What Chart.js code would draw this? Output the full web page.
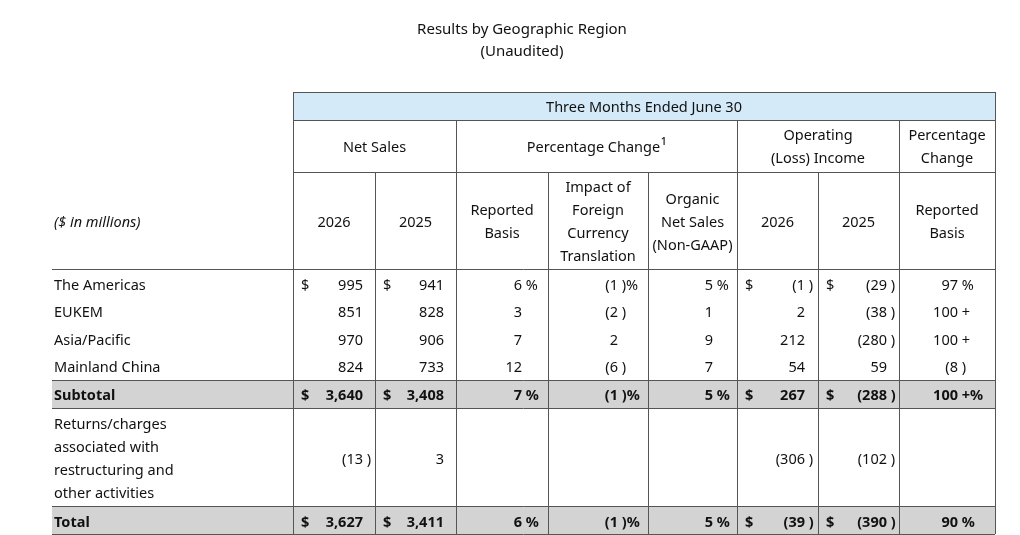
<!DOCTYPE html>
<html>
<head>
<meta charset="utf-8">
<script src="https://cdn.jsdelivr.net/npm/chart.js@4/dist/chart.umd.min.js"></script>
<style>
  html, body { margin: 0; padding: 0; background: #fff; }
  #wrap { width: 1020px; height: 535px; position: relative; }
</style>
</head>
<body>
<div id="wrap"><canvas id="tabla"></canvas></div>
<script>
// ---- data ----
var titleLines = ["Results by Geographic Region", "(Unaudited)"];
var periodLabel = "Three Months Ended June 30";
var groupHeaders = [["Net Sales"], ["Percentage Change"], ["Operating", "(Loss) Income"], ["Percentage", "Change"]];
var columnHeaders = [
  ["2026"], ["2025"], ["Reported", "Basis"],
  ["Impact of", "Foreign", "Currency", "Translation"],
  ["Organic", "Net Sales", "(Non-GAAP)"],
  ["2026"], ["2025"], ["Reported", "Basis"]
];
var unitsLabel = "($ in millions)";
var rowLabels = [
  ["The Americas"], ["EUKEM"], ["Asia/Pacific"], ["Mainland China"], ["Subtotal"],
  ["Returns/charges", "associated with", "restructuring and", "other activities"],
  ["Total"]
];
var netSales2026 = [995, 851, 970, 824, 3640, -13, 3627];
var netSales2025 = [941, 828, 906, 733, 3408, 3, 3411];
var reportedChange = [6, 3, 7, 12, 7, null, 6];
var fxImpact = [-1, -2, 2, -6, -1, null, -1];
var organicChange = [5, 1, 9, 7, 5, null, 5];
var opIncome2026 = [-1, 2, 212, 54, 267, -306, -39];
var opIncome2025 = [-29, -38, -280, 59, -288, -102, -390];
var opIncomeChange = [97, ">100", ">100", -8, ">100", null, 90];

var summaryRows = [4, 6];   // grey + bold
var markedRows = [0, 4, 6]; // show $ and %

// ---- layout (table units = px) ----
var colEdges = [293, 375, 456, 548, 648, 737, 818, 899, 995];
var groupEdges = [293, 456, 737, 899, 995];
var anchorInset = [12, 12, 26, 30, 24, 13, 12, 37];
var rowCenters = [284, 311, 339, 366, 394, 458, 521];
var bands = [[380, 408], [506, 534]];
var hLinesBody = [269, 380, 408, 506, 534];

var columns = [
  { values: netSales2026, dollar: true },
  { values: netSales2025, dollar: true },
  { values: reportedChange, pct: true },
  { values: fxImpact, pct: true },
  { values: organicChange, pct: true },
  { values: opIncome2026, dollar: true },
  { values: opIncome2025, dollar: true },
  { values: opIncomeChange, pct: true }
];

var FONT = "'Noto Sans', 'Open Sans', sans-serif";
var DY = 1.5; // middle-baseline nudge

function formatCell(v, pct, marked) {
  var main, suffix = "";
  if (v === ">100") {
    main = "100";
    suffix = " +";
  } else if (v < 0) {
    main = "(" + Math.abs(v).toLocaleString("en-US");
    suffix = " )";
  } else {
    main = v.toLocaleString("en-US");
  }
  if (pct && marked) suffix = suffix ? suffix + "%" : " %";
  return { main: main, suffix: suffix };
}

var tablePlugin = {
  id: "tablePlugin",
  afterDraw: function (chart) {
    var ctx = chart.ctx;
    var sx = chart.scales.x, sy = chart.scales.y;
    var X = function (v) { return sx.getPixelForValue(v); };
    var Y = function (v) { return sy.getPixelForValue(v); };
    var T = function (v) { return sy.getPixelForValue(v + DY); };
    var L = function (v, isX) { return Math.round(isX ? X(v) : Y(v)) + 0.5; };

    ctx.save();
    // backgrounds
    ctx.fillStyle = "#d5eaf8";
    ctx.fillRect(X(293), Y(92), X(995) - X(293), Y(120) - Y(92));
    ctx.fillStyle = "#d3d3d3";
    bands.forEach(function (b) {
      ctx.fillRect(X(52), Y(b[0]), X(995) - X(52), Y(b[1]) - Y(b[0]));
    });

    // lines
    ctx.strokeStyle = "#555";
    ctx.lineWidth = 1;
    function hline(y, x0, x1) {
      ctx.beginPath(); ctx.moveTo(X(x0), L(y)); ctx.lineTo(X(x1), L(y)); ctx.stroke();
    }
    function vline(x, y0, y1) {
      ctx.beginPath(); ctx.moveTo(L(x, true), Y(y0)); ctx.lineTo(L(x, true), Y(y1)); ctx.stroke();
    }
    [92, 120, 172].forEach(function (y) { hline(y, 293, 995); });
    hLinesBody.forEach(function (y) { hline(y, 52, 995); });
    vline(293, 92, 120); vline(995, 92, 120);
    groupEdges.forEach(function (x) { vline(x, 120, 172); });
    colEdges.forEach(function (x) { vline(x, 172, 534); });

    ctx.fillStyle = "#111";
    ctx.textBaseline = "middle";

    // title
    ctx.font = "15px " + FONT;
    ctx.textAlign = "center";
    ctx.fillText(titleLines[0], X(522), T(28));
    ctx.fillText(titleLines[1], X(522), T(50));

    // headers
    var HF = "14.5px " + FONT;
    ctx.font = HF;
    ctx.fillText(periodLabel, X(644), T(106));
    groupHeaders.forEach(function (lines, i) {
      var cx = (groupEdges[i] + groupEdges[i + 1]) / 2;
      var top = 146 - (lines.length - 1) * 11.5;
      lines.forEach(function (t, k) {
        if (i === 1) {
          ctx.font = HF;
          var w = ctx.measureText(t).width;
          ctx.font = "500 10.5px " + FONT;
          var ws = ctx.measureText("1").width;
          var start = X(cx) - (w + ws) / 2;
          ctx.textAlign = "left";
          ctx.font = HF;
          ctx.fillText(t, start, T(top + k * 23));
          ctx.font = "500 10.5px " + FONT;
          ctx.fillText("1", start + w + 0.5, T(top + k * 23 - 5));
          ctx.textAlign = "center";
          ctx.font = HF;
        } else {
          ctx.fillText(t, X(cx), T(top + k * 23));
        }
      });
    });
    columnHeaders.forEach(function (lines, i) {
      var cx = (colEdges[i] + colEdges[i + 1]) / 2;
      var top = 221 - (lines.length - 1) * 11.5;
      lines.forEach(function (t, k) { ctx.fillText(t, X(cx), T(top + k * 23)); });
    });

    ctx.textAlign = "left";
    ctx.font = "italic 14.5px " + FONT;
    ctx.fillText(unitsLabel, X(54), T(221));

    // body
    rowLabels.forEach(function (lines, r) {
      var bold = summaryRows.indexOf(r) >= 0;
      var marked = markedRows.indexOf(r) >= 0;
      ctx.font = (bold ? "bold " : "") + "14.5px " + FONT;
      ctx.textAlign = "left";
      var top = rowCenters[r] - (lines.length - 1) * 11.5;
      lines.forEach(function (t, k) { ctx.fillText(t, X(54), T(top + k * 23)); });

      columns.forEach(function (col, c) {
        var v = col.values[r];
        if (v === null || v === undefined) return;
        var f = formatCell(v, col.pct, marked);
        var ax = X(colEdges[c + 1] - anchorInset[c]);
        var y = T(rowCenters[r]);
        ctx.textAlign = "right";
        ctx.fillText(f.main, ax, y);
        ctx.textAlign = "left";
        ctx.fillText(f.suffix, ax, y);
        if (col.dollar && marked) ctx.fillText("$", X(colEdges[c] + 8), y);
      });
    });
    ctx.restore();
  }
};

new Chart(document.getElementById("tabla"), {
  type: "scatter",
  data: { datasets: [{ data: [] }] },
  options: {
    responsive: true,
    maintainAspectRatio: false,
    animation: false,
    layout: { padding: 0 },
    plugins: { legend: { display: false }, tooltip: { enabled: false } },
    scales: {
      x: { type: "linear", min: 0, max: 1020, display: false },
      y: { type: "linear", min: 0, max: 535, reverse: true, display: false }
    }
  },
  plugins: [tablePlugin]
});
</script>
</body>
</html>
